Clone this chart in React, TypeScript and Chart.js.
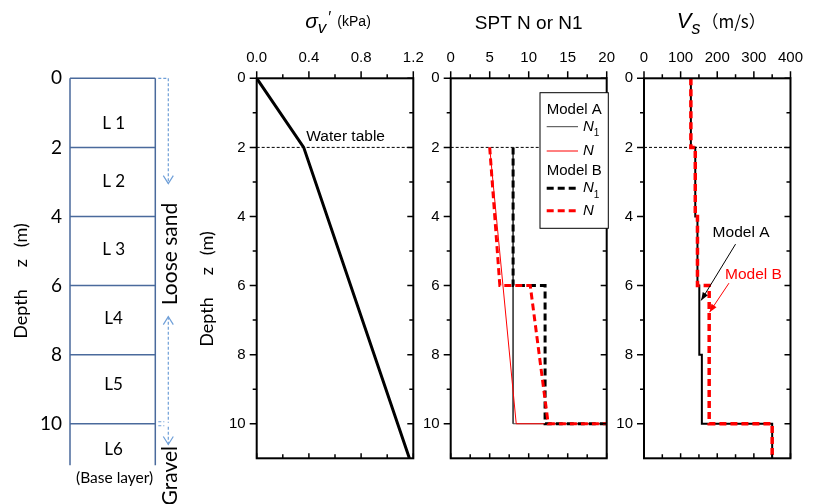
import React, { useEffect, useRef } from 'react';
import { Chart, registerables } from 'chart.js';
Chart.register(...registerables);

// ---------------- DATA ----------------
const depthTicks = [0, 2, 4, 6, 8, 10];
const depthMinor = [1, 3, 5, 7, 9];
const layerBounds = [0, 2, 4, 6, 8, 10];
const layerNames = ['L 1', 'L 2', 'L 3', 'L4', 'L5', 'L6'];
const layerLabelDepth = [1.3, 3, 4.95, 6.95, 8.85, 10.75];
const columnBottom = 11.2;
const waterTableDepth = 2;

const sigmaTicks = [0, 0.4, 0.8, 1.2];
const sigmaMinor = [0.2, 0.6, 1.0];
const sigmaDepth = [0, 2, 11];
const sigmaValue = [0, 0.36, 1.17];

const sptTicks = [0, 5, 10, 15, 20];
const sptMinor = [2.5, 7.5, 12.5, 17.5];
const sptA_N1_depth = [2, 10, 10];
const sptA_N1 = [8, 8, 20];
const sptA_N_depth = [2, 10, 10];
const sptA_N = [5, 8.4, 20];
const sptB_N1_depth = [2, 6, 6, 10, 10];
const sptB_N1 = [8, 8, 12.1, 12.1, 20];
const sptB_N_depth = [2, 6, 6, 10, 10];
const sptB_N = [5, 6.3, 10.2, 12.5, 20];

const vsTicks = [0, 100, 200, 300, 400];
const vsMinor = [50, 150, 250, 350];
const vsDepth = [0, 2, 2, 4, 4, 6, 6, 8, 8, 10, 10, 11];
const vsModelA = [128, 128, 140, 140, 146, 146, 151, 151, 158, 158, 350, 350];
const vsModelB = [128, 128, 140, 140, 146, 146, 178, 178, 178, 178, 350, 350];

// ---------------- LAYOUT ----------------
const CW = 814;
const CH = 504;
const PLOT_TOP = 78.3;
const PLOT_BOTTOM = 458.3;
const SANS = '"Liberation Sans", Arial, sans-serif';
const CAL = 'Lato, "Liberation Sans", sans-serif';
const COL_BLUE = '#4a6a9c';
const ARROW_BLUE = '#6f9fd8';

const pts = (xs: number[], ys: number[]) => xs.map((x, i) => ({ x, y: ys[i] }));

type Run = { t: string; font: string; dy?: number; dx?: number; color?: string };

function runsWidth(ctx: CanvasRenderingContext2D, runs: Run[]) {
  let w = 0;
  for (const r of runs) {
    ctx.font = r.font;
    w += (r.dx || 0) + ctx.measureText(r.t).width;
  }
  return w;
}
function drawRuns(ctx: CanvasRenderingContext2D, runs: Run[], x: number, y: number, align = 'center') {
  const total = runsWidth(ctx, runs);
  let cx = align === 'left' ? x : align === 'right' ? x - total : x - total / 2;
  ctx.textBaseline = 'middle';
  ctx.textAlign = 'left';
  for (const r of runs) {
    ctx.font = r.font;
    cx += r.dx || 0;
    ctx.fillStyle = r.color || '#000';
    ctx.fillText(r.t, cx, y + (r.dy || 0));
    cx += ctx.measureText(r.t).width;
  }
}
function drawRunsRotated(ctx: CanvasRenderingContext2D, runs: Run[], x: number, y: number, align = 'center') {
  ctx.save();
  ctx.translate(x, y);
  ctx.rotate(-Math.PI / 2);
  drawRuns(ctx, runs, 0, 0, align);
  ctx.restore();
}
function drawArrow(ctx: CanvasRenderingContext2D, x1: number, y1: number, x2: number, y2: number, color: string) {
  ctx.save();
  ctx.strokeStyle = color;
  ctx.fillStyle = color;
  ctx.lineWidth = 1;
  ctx.beginPath();
  ctx.moveTo(x1, y1);
  ctx.lineTo(x2, y2);
  ctx.stroke();
  const a = Math.atan2(y2 - y1, x2 - x1);
  const L = 8, Wd = 3;
  ctx.beginPath();
  ctx.moveTo(x2, y2);
  ctx.lineTo(x2 - L * Math.cos(a) + Wd * Math.sin(a), y2 - L * Math.sin(a) - Wd * Math.cos(a));
  ctx.lineTo(x2 - L * Math.cos(a) - Wd * Math.sin(a), y2 - L * Math.sin(a) + Wd * Math.cos(a));
  ctx.closePath();
  ctx.fill();
  ctx.restore();
}

function frameAndTicks(chart: any, xMajor: number[], xMinor: number[]) {
  const { ctx, chartArea: a, scales } = chart;
  const xs = scales.x, ys = scales.y;
  ctx.save();
  ctx.strokeStyle = '#000';
  ctx.lineWidth = 1.5;
  ctx.beginPath();
  const seg = (x1: number, y1: number, x2: number, y2: number) => {
    ctx.moveTo(x1, y1);
    ctx.lineTo(x2, y2);
  };
  for (const v of xMajor) {
    const p = xs.getPixelForValue(v);
    seg(p, a.top, p, a.top - 7);
    seg(p, a.bottom, p, a.bottom - 5);
  }
  for (const v of xMinor) {
    const p = xs.getPixelForValue(v);
    seg(p, a.top, p, a.top - 4);
    seg(p, a.bottom, p, a.bottom - 4);
  }
  for (const v of depthTicks) {
    const p = ys.getPixelForValue(v);
    seg(a.left, p, a.left - 7, p);
    seg(a.right, p, a.right - 6, p);
  }
  for (const v of depthMinor) {
    const p = ys.getPixelForValue(v);
    seg(a.left, p, a.left - 4, p);
    seg(a.right, p, a.right - 4, p);
  }
  ctx.stroke();
  ctx.lineWidth = 2;
  ctx.strokeRect(a.left, a.top, a.right - a.left, a.bottom - a.top);
  ctx.restore();
}

function waterLine(chart: any) {
  const { ctx, chartArea: a, scales } = chart;
  const y = scales.y.getPixelForValue(waterTableDepth);
  ctx.save();
  ctx.strokeStyle = '#000';
  ctx.lineWidth = 1;
  ctx.setLineDash([3, 2]);
  ctx.beginPath();
  ctx.moveTo(a.left, y);
  ctx.lineTo(a.right, y);
  ctx.stroke();
  ctx.restore();
}

function depthTitle(ctx: CanvasRenderingContext2D, x: number, y: number, font: string) {
  drawRunsRotated(ctx, [
    { t: 'Depth', font },
    { t: 'z', font, dx: 22 },
    { t: '(m)', font, dx: 12 },
  ], x, y);
}

function panelScales(xMin: number, xMax: number, xTicks: number[], left: number, fmt: (v: number) => string) {
  return {
    x: {
      type: 'linear', position: 'top', min: xMin, max: xMax,
      afterBuildTicks: (s: any) => { s.ticks = xTicks.map((v) => ({ value: v })); },
      afterFit: (s: any) => { s.height = PLOT_TOP; },
      grid: { display: false, drawTicks: false },
      border: { display: false },
      ticks: { font: { family: SANS, size: 15 }, color: '#000', padding: 11, autoSkip: false, maxRotation: 0, callback: (v: any) => fmt(Number(v)) },
    },
    y: {
      type: 'linear', position: 'left', min: 0, max: 11, reverse: true,
      afterBuildTicks: (s: any) => { s.ticks = depthTicks.map((v) => ({ value: v })); },
      afterFit: (s: any) => { s.width = left; },
      grid: { display: false, drawTicks: false },
      border: { display: false },
      ticks: { font: { family: SANS, size: 15 }, color: '#000', padding: 11, autoSkip: false, callback: (v: any) => String(v) },
    },
  };
}

const baseOpts = (padding: any) => ({
  responsive: false,
  animation: false,
  devicePixelRatio: 1,
  events: [],
  layout: { padding },
  plugins: { legend: { display: false }, tooltip: { enabled: false }, title: { display: false } },
});

function soilConfig(): any {
  const ds = (data: any[]) => ({ data, borderColor: COL_BLUE, borderWidth: 1.5, pointRadius: 0, showLine: true, clip: false });
  const datasets = [
    ...layerBounds.map((d) => ds(pts([0, 1], [d, d]))),
    ds(pts([0, 0], [0, columnBottom])),
    ds(pts([1, 1], [0, columnBottom])),
  ];
  return {
    type: 'scatter',
    data: { datasets },
    options: {
      ...baseOpts({ left: 0, top: PLOT_TOP, right: CW - 155.3, bottom: CH - PLOT_BOTTOM }),
      scales: {
        x: { type: 'linear', display: false, min: 0, max: 1 },
        y: {
          type: 'linear', position: 'left', min: 0, max: 11, reverse: true,
          afterBuildTicks: (s: any) => { s.ticks = depthTicks.map((v) => ({ value: v })); },
          afterFit: (s: any) => { s.width = 70; },
          grid: { display: false, drawTicks: false },
          border: { display: false },
          ticks: { font: { family: CAL, size: 19 }, color: '#000', padding: 8, autoSkip: false },
        },
      },
    },
    plugins: [{
      id: 'soil',
      afterDraw(chart: any) {
        const { ctx, chartArea: a, scales } = chart;
        const ys = scales.y;
        const cx = (a.left + a.right) / 2;
        ctx.save();
        layerNames.forEach((n, i) => {
          drawRuns(ctx, [{ t: n, font: `17px ${CAL}` }], cx + 1, ys.getPixelForValue(layerLabelDepth[i]));
        });
        drawRuns(ctx, [{ t: '(Base layer)', font: `15.5px ${CAL}` }], cx + 2, 478);
        depthTitle(ctx, 21, 281, `18px ${CAL}`);
        // arrows
        const ax = a.right + 13;
        ctx.strokeStyle = ARROW_BLUE;
        ctx.lineWidth = 1.2;
        ctx.setLineDash([3, 2]);
        ctx.beginPath();
        const y0 = ys.getPixelForValue(0);
        const yTip1 = ys.getPixelForValue(3.05);
        const yTip2 = ys.getPixelForValue(6.9);
        const y10 = ys.getPixelForValue(10);
        const yTip3 = ys.getPixelForValue(10.6);
        ctx.moveTo(a.right + 3, y0); ctx.lineTo(ax, y0);
        ctx.moveTo(ax, y0); ctx.lineTo(ax, yTip1);
        ctx.moveTo(ax, yTip2); ctx.lineTo(ax, y10 - 1);
        ctx.moveTo(a.right + 3, y10 - 2); ctx.lineTo(a.right + 9, y10 - 2);
        ctx.moveTo(a.right + 3, y10 + 2); ctx.lineTo(a.right + 9, y10 + 2);
        ctx.moveTo(ax, y10 + 3); ctx.lineTo(ax, yTip3);
        ctx.stroke();
        ctx.setLineDash([]);
        ctx.beginPath();
        ctx.moveTo(ax - 5, yTip1 - 8); ctx.lineTo(ax, yTip1); ctx.lineTo(ax + 5, yTip1 - 8);
        ctx.moveTo(ax - 5, yTip2 + 8); ctx.lineTo(ax, yTip2); ctx.lineTo(ax + 5, yTip2 + 8);
        ctx.moveTo(ax - 5, yTip3 - 8); ctx.lineTo(ax, yTip3); ctx.lineTo(ax + 5, yTip3 - 8);
        ctx.stroke();
        drawRunsRotated(ctx, [{ t: 'Loose sand', font: `21px ${CAL}` }], a.right + 15, 254);
        drawRunsRotated(ctx, [{ t: 'Gravel', font: `21px ${CAL}` }], a.right + 15, 446, 'right');
        ctx.restore();
      },
    }],
  };
}

function sigmaConfig(): any {
  return {
    type: 'scatter',
    data: {
      datasets: [{ data: pts(sigmaValue, sigmaDepth), borderColor: '#000', borderWidth: 3, pointRadius: 0, showLine: true }],
    },
    options: {
      ...baseOpts({ left: 0, top: 0, right: CW - 413.3, bottom: CH - PLOT_BOTTOM }),
      scales: panelScales(0, 1.2, sigmaTicks, 256.7, (v) => v.toFixed(1)),
    },
    plugins: [{
      id: 'sig',
      beforeDatasetsDraw(chart: any) { waterLine(chart); },
      afterDraw(chart: any) {
        const { ctx, chartArea: a, scales } = chart;
        frameAndTicks(chart, sigmaTicks, sigmaMinor);
        ctx.save();
        drawRuns(ctx, [{ t: 'Water table', font: `15.5px ${SANS}` }], scales.x.getPixelForValue(0.38), scales.y.getPixelForValue(waterTableDepth) - 11, 'left');
        drawRuns(ctx, [
          { t: 'σ', font: `italic 21px ${SANS}` },
          { t: 'v', font: `italic 17px ${SANS}`, dy: 6 },
          { t: '′', font: `16px ${SANS}`, dy: -3, dx: 2 },
          { t: '(kPa)', font: `14px ${SANS}`, dx: 6 },
        ], (a.left + a.right) / 2 + 3, 22);
        depthTitle(ctx, 207, 289, `18px ${CAL}`);
        ctx.restore();
      },
    }],
  };
}

function sptConfig(): any {
  const line = (data: any[], color: string, width: number, dash: number[], order: number) => ({
    data, borderColor: color, borderWidth: width, borderDash: dash, pointRadius: 0, showLine: true, order,
  });
  return {
    type: 'scatter',
    data: {
      datasets: [
        line(pts(sptB_N, sptB_N_depth), '#ff0000', 3, [7, 4], 0),
        line(pts(sptB_N1, sptB_N1_depth), '#000', 3, [7, 4], 1),
        line(pts(sptA_N, sptA_N_depth), '#ff0000', 1, [], 2),
        line(pts(sptA_N1, sptA_N1_depth), '#444', 1, [], 3),
      ],
    },
    options: {
      ...baseOpts({ left: 0, top: 0, right: CW - 606.7, bottom: CH - PLOT_BOTTOM }),
      scales: panelScales(0, 20, sptTicks, 450.7, (v) => String(v)),
    },
    plugins: [{
      id: 'spt',
      beforeDatasetsDraw(chart: any) { waterLine(chart); },
      afterDraw(chart: any) {
        const { ctx, chartArea: a } = chart;
        frameAndTicks(chart, sptTicks, sptMinor);
        ctx.save();
        // legend
        const L = a.right - 66.7, R = a.right + 1.6, T = 92.7, B = 228.3;
        ctx.fillStyle = '#fff';
        ctx.fillRect(L, T, R - L, B - T);
        ctx.strokeStyle = '#000';
        ctx.lineWidth = 1;
        ctx.strokeRect(L, T, R - L, B - T);
        const lx1 = L + 6.7, lx2 = L + 38, tx = L + 43;
        const f = `15px ${SANS}`;
        const fi = `italic 15px ${SANS}`;
        const fs = `10px ${SANS}`;
        drawRuns(ctx, [{ t: 'Model A', font: f }], lx1, 110, 'left');
        drawRuns(ctx, [{ t: 'Model B', font: f }], lx1, 170.7, 'left');
        const entry = (y: number, color: string, w: number, dash: number[], sub: boolean) => {
          ctx.save();
          ctx.strokeStyle = color;
          ctx.lineWidth = w;
          ctx.setLineDash(dash);
          ctx.beginPath();
          ctx.moveTo(lx1, y);
          ctx.lineTo(lx2, y);
          ctx.stroke();
          ctx.restore();
          const runs: Run[] = [{ t: 'N', font: fi }];
          if (sub) runs.push({ t: '1', font: fs, dy: 7 });
          drawRuns(ctx, runs, tx, y, 'left');
        };
        entry(126.7, '#444', 1, [], true);
        entry(151, '#ff0000', 1, [], false);
        entry(188.3, '#000', 3, [7, 4], true);
        entry(210.7, '#ff0000', 3, [7, 4], false);
        drawRuns(ctx, [{ t: 'SPT N or N1', font: `19px ${SANS}` }], (a.left + a.right) / 2, 24);
        ctx.restore();
      },
    }],
  };
}

function vsConfig(): any {
  return {
    type: 'scatter',
    data: {
      datasets: [
        { data: pts(vsModelB, vsDepth), borderColor: '#ff0000', borderWidth: 3.5, borderDash: [7, 4], pointRadius: 0, showLine: true, order: 0 },
        { data: pts(vsModelA, vsDepth), borderColor: '#000', borderWidth: 2, pointRadius: 0, showLine: true, order: 1 },
      ],
    },
    options: {
      ...baseOpts({ left: 0, top: 0, right: CW - 800.7, bottom: CH - PLOT_BOTTOM }),
      scales: panelScales(0, 400, vsTicks, 644, (v) => String(v)),
    },
    plugins: [{
      id: 'vs',
      beforeDatasetsDraw(chart: any) { waterLine(chart); },
      afterDraw(chart: any) {
        const { ctx, chartArea: a, scales } = chart;
        const xs = scales.x, ys = scales.y;
        frameAndTicks(chart, vsTicks, vsMinor);
        ctx.save();
        drawRuns(ctx, [{ t: 'Model A', font: `15.5px ${SANS}` }], xs.getPixelForValue(265), ys.getPixelForValue(4.48));
        drawArrow(ctx, xs.getPixelForValue(250), ys.getPixelForValue(4.8), xs.getPixelForValue(156), ys.getPixelForValue(6.43), '#000');
        drawRuns(ctx, [{ t: 'Model B', font: `15.5px ${SANS}`, color: '#ff0000' }], xs.getPixelForValue(299), ys.getPixelForValue(5.7));
        drawArrow(ctx, xs.getPixelForValue(232), ys.getPixelForValue(5.93), xs.getPixelForValue(179), ys.getPixelForValue(6.77), '#ff0000');
        drawRuns(ctx, [
          { t: 'V', font: `italic 22px ${SANS}` },
          { t: 's', font: `italic 18px ${SANS}`, dy: 7 },
          { t: '（m/s）', font: `17px "Noto Sans CJK JP", ${SANS}`, dx: 1 },
        ], (a.left + a.right) / 2 + 4, 22);
        ctx.restore();
      },
    }],
  };
}

export default function App() {
  const r0 = useRef<HTMLCanvasElement>(null);
  const r1 = useRef<HTMLCanvasElement>(null);
  const r2 = useRef<HTMLCanvasElement>(null);
  const r3 = useRef<HTMLCanvasElement>(null);
  useEffect(() => {
    const charts = [
      new Chart(r0.current as any, soilConfig()),
      new Chart(r1.current as any, sigmaConfig()),
      new Chart(r2.current as any, sptConfig()),
      new Chart(r3.current as any, vsConfig()),
    ];
    return () => charts.forEach((c) => c.destroy());
  }, []);
  const cs: React.CSSProperties = { position: 'absolute', left: 0, top: 0, width: CW, height: CH };
  return (
    <div style={{ position: 'absolute', left: 0, top: 0, width: CW, height: CH, background: '#fff', overflow: 'hidden' }}>
      <canvas ref={r0} width={CW} height={CH} style={cs} />
      <canvas ref={r1} width={CW} height={CH} style={cs} />
      <canvas ref={r2} width={CW} height={CH} style={cs} />
      <canvas ref={r3} width={CW} height={CH} style={cs} />
    </div>
  );
}
